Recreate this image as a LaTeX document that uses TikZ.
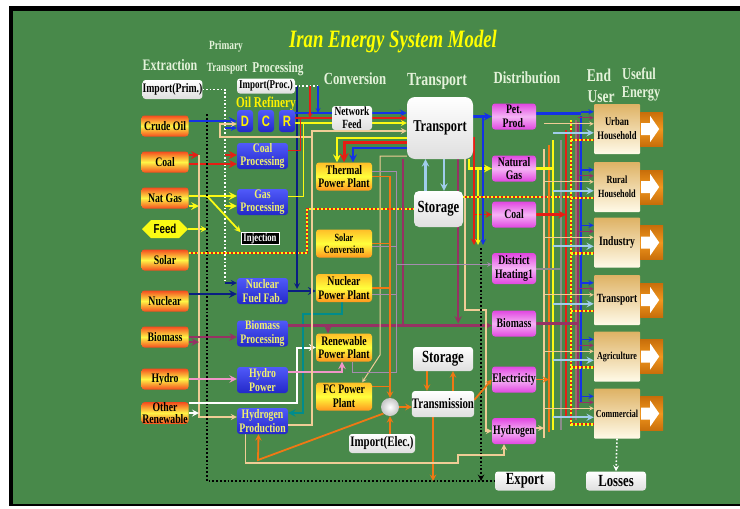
\documentclass[tikz,border=0pt]{standalone}
\usepackage{fontspec}
\setmainfont{Liberation Serif}[FakeStretch=0.75]
\newfontfamily\dcrfont{Liberation Sans}[FakeStretch=0.75]
\usetikzlibrary{shapes.symbols}

\definecolor{bggreen}{RGB}{72,137,74}
\definecolor{hdrcol}{RGB}{228,242,218}
\definecolor{ttlcol}{RGB}{255,255,0}
\definecolor{oilblue}{RGB}{20,50,230}
\definecolor{nucnavy}{RGB}{10,30,130}
\definecolor{coalred}{RGB}{230,30,20}
\definecolor{gasyel}{RGB}{250,250,20}
\definecolor{h2tan}{RGB}{240,205,150}
\definecolor{biopurp}{RGB}{150,50,100}
\definecolor{hydpink}{RGB}{240,150,200}
\definecolor{elecor}{RGB}{240,120,20}
\definecolor{tealc}{RGB}{0,140,140}
\definecolor{stolblue}{RGB}{160,205,235}
\definecolor{heatgray}{RGB}{165,140,175}
\definecolor{busgray}{RGB}{140,140,140}
\definecolor{brngray}{RGB}{150,110,110}
\definecolor{extred}{RGB}{245,75,30}
\definecolor{extyel}{RGB}{255,245,70}
\definecolor{procA}{RGB}{80,90,250}
\definecolor{procB}{RGB}{35,40,200}
\definecolor{proctxt}{RGB}{240,240,110}
\definecolor{convA}{RGB}{255,190,40}
\definecolor{convB}{RGB}{255,150,30}
\definecolor{convC}{RGB}{255,255,60}
\definecolor{distA}{RGB}{225,70,225}
\definecolor{distB}{RGB}{245,180,245}
\definecolor{userA}{RGB}{222,178,100}
\definecolor{userB}{RGB}{255,250,232}
\definecolor{uarrA}{RGB}{200,110,10}
\definecolor{uarrB}{RGB}{240,150,30}

\pgfdeclarelayer{bg}
\pgfdeclarelayer{flows}
\pgfsetlayers{bg,flows,main}

\begin{document}
\begin{tikzpicture}[x=1pt,y=-1pt,>=stealth,
  box/.style={rectangle,rounded corners=3pt,inner sep=0pt,align=center,
    font=\fontsize{13}{13.5}\selectfont\bfseries},
  extbox/.style={box,minimum width=47pt,minimum height=21pt,
    top color=extred,bottom color=extred,middle color=extyel},
  procbox/.style={box,text=proctxt,minimum width=51pt,minimum height=26pt,
    top color=procA,bottom color=procB},
  dcrbox/.style={box,minimum width=16pt,minimum height=22pt,text=yellow,
    top color=procA,bottom color=procB,font={\dcrfont\fontsize{15}{15}\selectfont\bfseries}},
  convbox/.style={box,minimum width=56pt,minimum height=28pt,
    top color=convA,bottom color=convB,middle color=convC},
  distbox/.style={box,minimum width=44pt,minimum height=26pt,
    top color=distA,bottom color=distA,middle color=distB},
  userbox/.style={box,rounded corners=1pt,minimum width=46pt,minimum height=50pt,
    top color=userA,bottom color=userB},
  whitebox/.style={box,top color=white,bottom color=gray!25},
  hdr/.style={text=hdrcol,inner sep=0pt,font=\fontsize{16}{16}\selectfont\bfseries},
  oil/.style={draw=oilblue,line width=2.4pt},
  nuc/.style={draw=nucnavy,line width=2.4pt},
  coalc/.style={draw=coalred,line width=2.4pt},
  gas/.style={draw=gasyel,line width=2.4pt},
  bio/.style={draw=biopurp,line width=2.2pt},
  hyd/.style={draw=hydpink,line width=2.2pt},
  h2/.style={draw=h2tan,line width=1.6pt},
  elec/.style={draw=elecor,line width=1.8pt},
  tealf/.style={draw=tealc,line width=2.2pt},
  wline/.style={draw=white,line width=2pt},
  heat/.style={draw=heatgray,line width=1pt},
  busg/.style={draw=busgray,line width=2pt},
  brng/.style={draw=brngray,line width=1.6pt},
  lblue/.style={draw=stolblue,line width=2.2pt},
  stripe/.style={draw=coalred,line width=2.6pt,
    postaction={draw=gasyel,line width=2.6pt,dash pattern=on 2pt off 2pt}},
  wdots/.style={draw=white,line width=1.6pt,dotted},
  bdots/.style={draw=black,line width=1.8pt,dotted}]

  \useasboundingbox (0,0) rectangle (740,509);

  % Frame and green board.
  \begin{pgfonlayer}{bg}
    \fill[white] (0,0) rectangle (740,509);
    \fill[black] (9,6) rectangle (740,506);
    \fill[bggreen] (13,11) rectangle (740,504);
  \end{pgfonlayer}

  % Title and column headers.
  \node[text=ttlcol,font=\fontsize{25}{25}\selectfont\bfseries\itshape] (title) at (393,42) {Iran Energy System Model};
  \node[hdr] (hdrext) at (170,65) {Extraction};
  \node[hdr,font=\fontsize{12.5}{12.5}\selectfont\bfseries] (hdrprim) at (226,47) {Primary};
  \node[hdr,font=\fontsize{12.5}{12.5}\selectfont\bfseries] (hdrptr) at (227,69) {Transport};
  \node[hdr,font=\fontsize{15}{15}\selectfont\bfseries] (hdrproc) at (278,69) {Processing};
  \node[hdr,font=\fontsize{17}{17}\selectfont\bfseries] (hdrconv) at (355,79) {Conversion};
  \node[hdr,font=\fontsize{18.5}{18.5}\selectfont\bfseries] (hdrtr) at (437,81) {Transport};
  \node[hdr,font=\fontsize{17}{17}\selectfont\bfseries] (hdrdist) at (527,78) {Distribution};
  \node[hdr,font=\fontsize{18}{18}\selectfont\bfseries] (hdrend) at (599,75) {End};
  \node[hdr,font=\fontsize{18}{18}\selectfont\bfseries] (hdruser) at (601,97) {User};
  \node[hdr,font=\fontsize{16.5}{16.5}\selectfont\bfseries] (hdruse) at (639,74) {Useful};
  \node[hdr,font=\fontsize{16.5}{16.5}\selectfont\bfseries] (hdren) at (641,94) {Energy};

  % Extraction column.
  \node[whitebox,minimum width=59pt,minimum height=19pt] (impprim) at (172.5,89.5) {Import(Prim.)};
  \foreach \nm/\yy/\txt in {crude/126/Crude Oil,coal/162/Coal,natgas/198/Nat Gas,
      solar/260/Solar,nuclear/301/Nuclear,biomass/337/Biomass,hydro/379/Hydro}
    \node[extbox] (\nm) at (165,\yy) {\txt};
  \node[extbox] (otherren) at (165,413) {Other\\[-1pt]Renewable};
  \node[shape=signal,signal to=west and east,fill=gasyel,minimum width=46pt,minimum height=18pt,
    inner sep=0pt,font={\dcrfont\fontsize{13}{13}\selectfont\bfseries}] (feed) at (165,229) {Feed};

  % Processing column.
  \node[whitebox,minimum width=58pt,minimum height=15pt,font=\fontsize{12}{12}\selectfont\bfseries] (impproc) at (266,86) {Import(Proc.)};
  \node[text=yellow,inner sep=0pt,font=\fontsize{15}{15}\selectfont\bfseries] (oilref) at (266,104) {Oil Refinery};
  \node[dcrbox] (refD) at (245,121) {D};
  \node[dcrbox] (refC) at (266,121) {C};
  \node[dcrbox] (refR) at (287,121) {R};
  \foreach \nm/\yy/\txt in {cproc/156/Coal\\Processing,gproc/202/Gas\\Processing,
      nff/291/Nuclear\\Fuel Fab.,bproc/333.5/Biomass\\Processing,hydpow/380/Hydro\\Power,
      hydprod/421/Hydrogen\\Production}
    \node[procbox] (\nm) at (262.5,\yy) {\txt};
  \node[box,rounded corners=0pt,fill=black,draw=white,line width=0.6pt,text=white,
    minimum width=38pt,minimum height=12pt,font=\fontsize{11.5}{11.5}\selectfont\bfseries] (inj) at (260,238.5) {Injection};

  % Conversion column.
  \node[whitebox,minimum width=40pt,minimum height=24pt,font=\fontsize{12.5}{13}\selectfont\bfseries] (netfeed) at (352,118) {Network\\Feed};
  \foreach \nm/\yy/\txt in {therm/176.5/Thermal\\Power Plant,npp/288/Nuclear\\Power Plant,
      rpp/347.5/Renewable\\Power Plant,fcpp/396.5/FC Power\\Plant}
    \node[convbox] (\nm) at (344,\yy) {\txt};
  \node[convbox,font=\fontsize{11}{12.5}\selectfont\bfseries] (solconv) at (344,243.5) {Solar\\Conversion};
  \node[circle,minimum size=18pt,inner sep=0pt,inner color=white,outer color=gray!45] (circ) at (390,407) {};
  \node[whitebox,minimum width=66pt,minimum height=19pt,font=\fontsize{14.5}{14.5}\selectfont\bfseries] (impel) at (382,443.5) {Import(Elec.)};

  % Transport column.
  \node[whitebox,rounded corners=8pt,minimum width=66pt,minimum height=62pt,font=\fontsize{16.5}{16.5}\selectfont\bfseries] (trans) at (440,128) {Transport};
  \node[whitebox,rounded corners=5pt,minimum width=49pt,minimum height=36pt,font=\fontsize{17}{17}\selectfont\bfseries] (stor) at (438.5,209) {Storage};
  \node[whitebox,minimum width=60pt,minimum height=24pt,font=\fontsize{17}{17}\selectfont\bfseries] (stor2) at (443,359) {Storage};
  \node[whitebox,minimum width=62pt,minimum height=26pt,font=\fontsize{14.5}{14.5}\selectfont\bfseries] (trans2) at (443,404) {Transmission};

  % Distribution column.
  \foreach \nm/\yy/\txt in {pet/116.5/Pet.\\Prod.,ngas/168.5/Natural\\Gas,coal2/214.5/Coal,
      bio/323.5/Biomass,elec/379.5/Electricity,hyd/431/Hydrogen}
    \node[distbox] (\nm) at (514,\yy) {\txt};
  \node[distbox,minimum height=31pt] (dh) at (514,268.5) {District\\Heating1};
  \node[whitebox,minimum width=60pt,minimum height=19pt,font=\fontsize{17}{17}\selectfont\bfseries] (export) at (525,481) {Export};
  \node[whitebox,minimum width=60pt,minimum height=19pt,font=\fontsize{17}{17}\selectfont\bfseries] (losses) at (616,481) {Losses};

  % End users and useful energy arrows.
  \foreach \nm/\yy/\txt/\fs in {urban/129/Urban\\Household/11.5,rural/187/Rural\\Household/11,
      industry/242.5/Industry/12.8,transp/300/Transport/12.5,agri/356.5/Agriculture/10.7,
      comm/413.5/Commercial/10.7}{
    \node[userbox,font={\fontsize{\fs}{14}\selectfont\bfseries}] (\nm) at (617,\yy) {\txt};
    \shade[top color=uarrA,bottom color=uarrA,middle color=uarrB]
      ([yshift=17pt]\nm.east) rectangle ([xshift=23pt,yshift=-17pt]\nm.east);
    \fill[white] ([xshift=1pt,yshift=6pt]\nm.east) -- ([xshift=10pt,yshift=6pt]\nm.east)
      -- ([xshift=10pt,yshift=13pt]\nm.east) -- ([xshift=19pt]\nm.east)
      -- ([xshift=10pt,yshift=-13pt]\nm.east) -- ([xshift=10pt,yshift=-6pt]\nm.east)
      -- ([xshift=1pt,yshift=-6pt]\nm.east) -- cycle;
  }

  % Turning points of the flows.
  \coordinate (primx) at (225,283);
  \coordinate (hbus) at (199,155);
  \coordinate (dotx) at (207,114);
  \coordinate (solx) at (307,253);
  \coordinate (navx) at (297,88);
  \coordinate (tealturn) at (303,314);
  \coordinate (h2top) at (312,131);
  \coordinate (h2mid) at (312,137);
  \coordinate (h2left) at (220,137);
  \coordinate (impq) at (318,86);
  \coordinate (redq) at (310,86);
  \coordinate (fcA) at (380,355);
  \coordinate (h2low) at (258,460);
  \coordinate (tanA) at (458,463);
  \coordinate (tanB) at (458,455);
  \coordinate (tanC) at (486,310);
  \coordinate (expred) at (474,245);
  \coordinate (expyel) at (478,245);
  \coordinate (expblu) at (483,245);
  \coordinate (expdot) at (481,248);
  \coordinate (hbot) at (396,372);
  \coordinate (tbus) at (544,149);
  \coordinate (obus) at (549,145);
  \coordinate (ybus) at (553,140);
  \coordinate (gbus) at (561,140);
  \coordinate (rbus) at (566,130);
  \coordinate (sbus) at (571,120);
  \coordinate (pbus) at (578,122);
  \coordinate (bbus) at (581,116);

  \begin{pgfonlayer}{flows}
    % Extraction to processing.
    \draw[wdots] (impprim.east) -| (primx);
    \draw[nuc,line width=1.6pt,->] (primx) -- (primx -| nff.west);
    \draw[oil,->] (crude.east |- refD.west) -- (refD.west);
    \draw[oil,line width=1.6pt,->] ([yshift=-7pt]refD.west -| primx) -- ([yshift=-7pt]refD.west);
    \draw[coalc,->] ([yshift=-2pt]coal.east) -- ([yshift=-2pt]coal.east -| cproc.west);
    \draw[coalc,->] ([yshift=7pt]coal.east) -- ([yshift=7pt]coal.east -| hbus);
    \draw[coalc,->] ([yshift=7pt]coal.east -| primx) -- ([yshift=7pt]coal.east -| cproc.west);
    \draw[gas,->] ([yshift=2pt]natgas.east) -- ([yshift=2pt]natgas.east -| gproc.west);
    \draw[gas,->] ([yshift=-8pt]natgas.east) -- ([yshift=-8pt]natgas.east -| hbus);
    \draw[gas,->] ([yshift=-8pt]natgas.east -| primx) -- ([yshift=-8pt]natgas.east -| gproc.west);
    \draw[gas,line width=1.8pt,->] ([yshift=2pt]natgas.east -| dotx) -- (inj.north west);
    \draw[gas,line width=1.8pt,->] (feed.east) -- (feed.east -| dotx);
    \draw[bdots] (dotx) |- (export.west);
    \draw[stripe] ([yshift=7pt]solar.east) -| (solx |- stor.west) -- (stor.west);
    \draw[h2,->] (hbus) |- ([yshift=4pt]hydprod.west);
    \draw[nuc,->] ([yshift=7pt]nuclear.east) -- ([yshift=7pt]nuclear.east -| nff.west);
    \draw[bio,->] (biomass.east) -- (biomass.east -| bproc.west);
    \draw[bio,->] ([yshift=-5pt]biomass.east) -- ([yshift=-5pt]biomass.east -| hbus);
    \draw[hyd,->] (hydro.east) -- (hydro.east -| hydpow.west);
    \draw[wline,->] ([yshift=10pt]otherren.east) -| (navx |- rpp.west) -- (rpp.west);
    \draw[wline,->] (otherren.east) -- (otherren.east -| hbus);

    % Processing to conversion and transport.
    \draw[nuc,->] (nff.east) -- (nff.east -| npp.west);
    \draw[nuc,line width=1.6pt,->] (navx |- impproc.east) -- ([yshift=2pt]navx |- nff.east);
    \draw[tealf,->] ([xshift=-2pt]npp.south) |- (tealturn) |- ([yshift=8pt]hydprod.east);
    \draw[hyd,->] ([yshift=8pt]hydpow.east) -| ([xshift=-2pt]rpp.south);
    \draw[bio,->] ([yshift=8pt]bproc.east) -- ([yshift=8pt]bproc.east -| bio.west);
    \draw[bio,->] ([xshift=-16pt]rpp.north |- bio.west) -- ([xshift=-16pt]rpp.north);
    \draw[bio] ([xshift=-4pt]trans.south west) -- ([xshift=-4pt]trans.south west |- bio.west);
    \draw[bio,->] ([xshift=-15pt]trans.south east) -- ([xshift=-15pt]trans.south east |- bio.west);
    \draw[h2,->] ([yshift=-4pt]hydprod.east) -| (h2top) -- (h2top -| trans.west);
    \draw[h2,->] (h2mid) -- (h2left) |- ([yshift=-3pt]refD.west);
    \draw[oil,line width=2pt,->] ([yshift=8pt]refR.east) -- ([yshift=8pt]refR.east -| trans.west);
    \draw[coalc,line width=1.6pt,->] ([yshift=3pt]refR.east) -- ([yshift=3pt]refR.east -| trans.west);
    \draw[gas,line width=1.6pt,->] ([yshift=-2pt]refR.east) -- ([yshift=-2pt]refR.east -| trans.west);
    \draw[wdots] (impproc.east) -- (impq);
    \draw[oil,line width=1.2pt,->] (impq) -- ([yshift=8pt]impq |- refR.east);
    \draw[coalc,line width=1.2pt,->] (redq) -- ([yshift=3pt]redq |- refR.east);
    \draw[coalc,line width=1pt] ([yshift=6pt]cproc.east) -| ([xshift=5pt,yshift=3pt]refR.east);
    \draw[gas,line width=1pt] ([yshift=6pt]gproc.east) -| ([xshift=8pt,yshift=-2pt]refR.east);

    % Transport to conversion and distribution.
    \draw[gas,->] ([yshift=-10pt]trans.west) -| ([xshift=-7pt]therm.north);
    \draw[coalc,line width=3pt,->] ([yshift=-14pt]trans.west) -| (therm.north);
    \draw[oil,->] ([yshift=-20pt]trans.west) -| ([xshift=9pt]therm.north);
    \draw[h2,line width=1pt,->] ([yshift=3pt]trans.south west) -| (fcA) -- ([xshift=-10pt]fcpp.north east);
    \draw[oil,->] (trans.east |- pet.west) -- (pet.west);
    \draw[gas,->] ([xshift=-4pt]trans.south east) |- (ngas.west);
    \draw[h2,->] ([xshift=-8pt]trans.south east) |- (tanC) |- (hyd.west);
    \draw[lblue,->] ([xshift=-13pt]stor.north) -- ([xshift=-13pt]stor.north |- trans.south);
    \draw[lblue,->] ([xshift=4pt]trans.south) -- ([xshift=4pt]trans.south |- stor.north);
    \draw[coalc,line width=1.8pt,->] ([yshift=-10pt]trans.east) -| (expred);
    \draw[coalc,line width=1.8pt,->] (coal2.west -| expred) -- (coal2.west);
    \draw[gas,line width=1.6pt,->] (ngas.west -| expyel) -- (expyel);
    \draw[oil,line width=1.6pt,->] (pet.west -| expblu) -- (expblu);
    \draw[bdots,->] (expdot) -- (expdot |- export.west);
    \draw[stripe] ([yshift=12pt]stor.east) -- ([yshift=12pt]stor.east -| sbus);

    % Power plants, heat and electricity.
    \draw[heat] ([yshift=5pt]therm.east) -| (hbot) -- ([xshift=8pt]rpp.south |- hbot) -- ([xshift=8pt]rpp.south);
    \draw[heat] ([yshift=-3pt]solconv.east) -- ([yshift=-3pt]solconv.east -| hbot);
    \draw[heat] ([yshift=-6pt]npp.east) -- ([yshift=-6pt]npp.east -| hbot);
    \draw[heat,->] ([yshift=4pt]dh.west -| hbot) -- ([yshift=4pt]dh.west);
    \draw[elec,->] (therm.east) -| (circ.north);
    \draw[elec] (solconv.east) -- (solconv.east -| circ.north);
    \draw[elec] (npp.east) -- (npp.east -| circ.north);
    \draw[elec] ([yshift=10pt]fcpp.east) -- ([yshift=10pt]fcpp.east -| circ.north);
    \draw[elec,->] (circ.east) -- (circ.east -| trans2.west);
    \draw[elec,->] (circ.south |- impel.north) -- (circ.south);
    \draw[elec,->] ([xshift=-16pt]stor2.south) -- ([xshift=-16pt]stor2.south |- trans2.north);
    \draw[elec,->] ([xshift=10pt]trans2.north) -- ([xshift=10pt]trans2.north |- stor2.south);
    \draw[elec,->] ([yshift=4pt]trans2.east) -- (elec.west);
    \draw[elec,->] ([xshift=-10pt]trans2.south) -- ([xshift=-10pt]trans2.south |- export.west);
    \draw[elec,->] (circ.south west) -- (h2low) -- ([xshift=-4pt]hydprod.south);
    \draw[h2,->] ([xshift=-17pt]hydprod.south) |- (tanA) -- (tanB) -| ([xshift=-10pt]hyd.south);

    % Distribution buses to end users.
    \draw[h2] (tbus) -- (tbus |- 0,438);
    \draw[elec] (obus) -- (obus |- 0,432);
    \draw[gas,line width=2pt] (ybus) -- (ybus |- 0,430);
    \draw[busg] (gbus) -- (gbus |- 0,430);
    \draw[coalc,line width=2pt] (rbus) -- (rbus |- 0,417);
    \draw[brng] ([xshift=5pt]sbus) -- ([xshift=5pt]sbus |- 0,420);
    \draw[bio,line width=1.6pt] (pbus) -- (pbus |- 0,410);
    \draw[oil,line width=2pt] (bbus) -- (bbus |- 0,402);
    \draw[stripe,line width=2pt] (sbus) -- (sbus |- 0,426);
    \draw[oil] ([yshift=3pt]pet.east) -- ([yshift=3pt]pet.east -| bbus);
    \draw[gas] (ngas.east) -- (ngas.east -| ybus);
    \draw[coalc,->] (coal2.east) -- (coal2.east -| rbus);
    \draw[busg] (dh.east) -- (dh.east -| gbus);
    \draw[bio] (bio.east) -- (bio.east -| pbus);
    \draw[elec,->] (elec.east) -- (elec.east -| obus);
    \draw[h2,->] ([yshift=3pt]hyd.east) -- ([yshift=3pt]hyd.east -| tbus);
    \foreach \u in {urban,rural,industry,transp,agri,comm}{
      \draw[oil,line width=1.4pt,->] ([yshift=-8pt]\u.north west -| bbus) -- ([yshift=-8pt]\u.north west);
      \draw[bio,line width=1.2pt,->] ([yshift=-14pt]\u.north west -| pbus) -- ([yshift=-14pt]\u.north west);
      \draw[h2,line width=1pt,->] ([yshift=-20pt]\u.north west -| tbus) -- ([yshift=-20pt]\u.north west);
      \draw[lblue,->] ([yshift=-29pt]\u.north west -| ybus) -- ([yshift=-29pt]\u.north west);
      \draw[stripe,line width=1.8pt] ([yshift=-36pt]\u.north west -| sbus) -- ([yshift=-36pt]\u.north west);
    }
    \draw[wdots,->] (comm.south) -- (losses.north);
  \end{pgfonlayer}
\end{tikzpicture}
\end{document}
